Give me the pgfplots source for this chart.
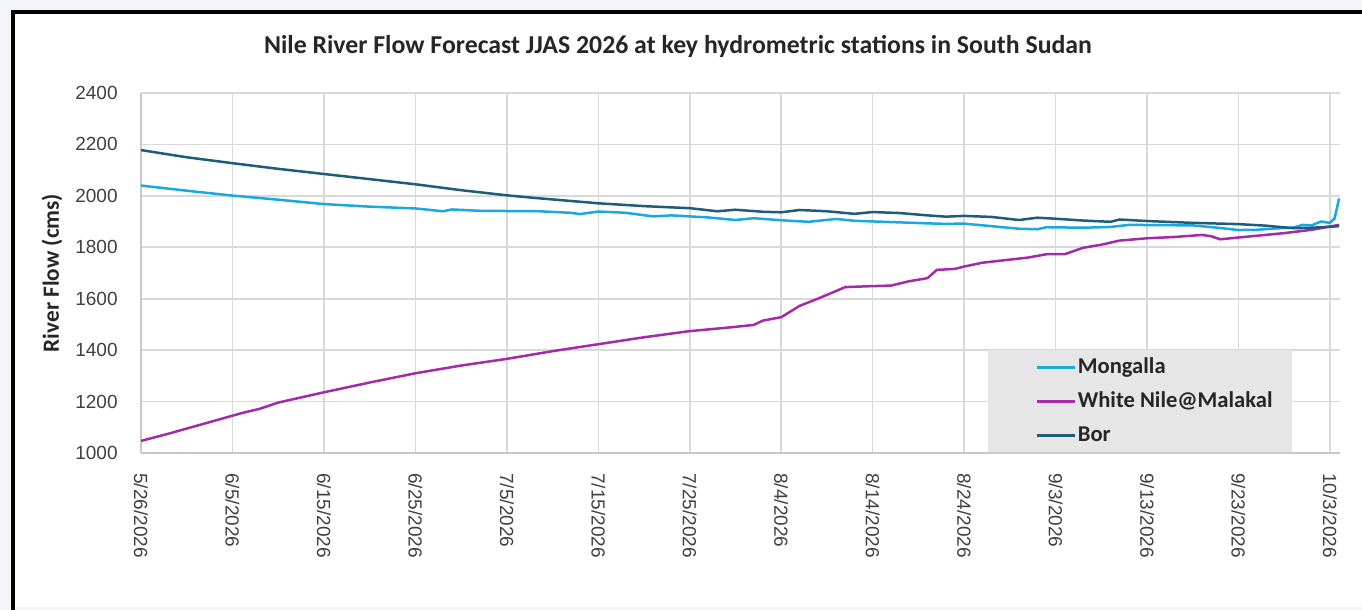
\documentclass[border=0pt]{standalone}
\usepackage{pgfplots}
\pgfplotsset{compat=1.18}
\usepackage{fontspec}
\setmainfont{Liberation Sans}
\newfontfamily\titlefont{Carlito}
\definecolor{cMong}{RGB}{26,168,224}
\definecolor{cMal}{RGB}{164,42,166}
\definecolor{cBor}{RGB}{31,92,121}
\definecolor{cGrid}{RGB}{217,217,217}
\definecolor{cAxis}{RGB}{200,200,200}
\definecolor{cTxt}{RGB}{64,64,64}
\definecolor{cBg}{RGB}{244,245,249}
\definecolor{cLeg}{RGB}{230,230,230}

\pgfplotstableread{
d v
0 2178
5 2150
10 2127
15 2105
20 2085
25 2065
30 2045
35 2022
40 2002
43 1992
50 1971
55 1960
60 1952
63 1940
65 1946
68 1938
70 1936
72 1945
75 1940
78 1930
80 1937
83 1933
86 1924
88 1919
90 1922
93 1918
96 1906
98 1915
100 1911
103 1904
106 1899
107 1908
110 1902
115 1895
120 1890
123 1884
126 1874
128 1876
131 1882
}\bor

\pgfplotstableread{
d v
0 2040
5 2020
10 2001
15 1985
20 1968
25 1958
30 1951
33 1940
34 1947
37 1942
40 1941
43 1941
47 1934
48 1929
50 1939
53 1934
56 1920
58 1924
62 1916
65 1906
67 1913
70 1905
73 1899
76 1910
78 1903
82 1898
86 1893
88 1891
90 1892
93 1882
96 1872
98 1870
99 1878
103 1876
106 1879
108 1887
112 1886
115 1885
118 1875
120 1867
122 1868
124 1873
126 1877
127 1887
128 1885
129 1900
130 1895
130.5 1912
131 1990
}\mong

\pgfplotstableread{
d v
0 1047
3 1075
6 1105
9 1135
11 1155
13 1172
15 1196
18 1220
20 1236
25 1274
30 1310
35 1340
40 1366
42 1378
45 1396
50 1423
55 1450
60 1474
64 1487
67 1498
68 1515
70 1528
72 1572
74 1600
76 1630
77 1645
80 1649
82 1651
84 1668
86 1680
87 1712
89 1716
90 1725
92 1740
95 1752
97 1760
99 1773
101 1773
103 1798
105 1810
107 1826
110 1835
113 1840
116 1848
117 1843
118 1831
120 1838
125 1855
128 1868
131 1887
}\mal

\begin{document}
\begin{tikzpicture}[x=0.5bp,y=0.5bp]
\useasboundingbox (0,0) rectangle (1362,610);
\fill[cBg] (0,0) rectangle (1362,610);
\fill[white] (13,3) rectangle (1362,598);
\fill[black] (11,0) rectangle (15,600);
\fill[black] (11,596) rectangle (1362,600);
\node[font=\titlefont\bfseries\fontsize{12.9bp}{15bp}\selectfont, text=black!85] at (678,564) {Nile River Flow Forecast JJAS 2026 at key hydrometric stations in South Sudan};
\begin{axis}[
  at={(70.5bp,78.5bp)}, anchor=south west,
  scale only axis, width=599.5bp, height=180bp,
  xmin=0, xmax=131.1, ymin=1000, ymax=2400,
  axis x line=bottom, axis y line=left,
  axis line style={cAxis, line width=0.9bp, -},
  grid=major, major grid style={cGrid, line width=0.8bp},
  major tick length=0pt,
  xtick={0,10,...,130},
  xticklabels={5/26/2026,6/5/2026,6/15/2026,6/25/2026,7/5/2026,7/15/2026,7/25/2026,8/4/2026,8/14/2026,8/24/2026,9/3/2026,9/13/2026,9/23/2026,10/3/2026},
  ytick={1000,1200,...,2400},
  /pgf/number format/assume math mode=true,
  /pgf/number format/1000 sep={},
  tick label style={font=\fontsize{9.5bp}{11bp}\selectfont, text=cTxt},
  xticklabel style={yshift=-10bp, rotate=-90, anchor=west, inner sep=0pt},
  yticklabel style={inner sep=0pt, xshift=-11.5bp},
  ylabel={River Flow (cms)},
  ylabel style={at={(axis description cs:-0.0742,0.5)}, anchor=center, font=\titlefont\bfseries\fontsize{11.6bp}{13bp}\selectfont, text=black!85},
  legend cell align=left,
  legend style={at={(0.7064,0.286)}, anchor=north west, fill=cLeg, draw=none,
    inner xsep=0pt, inner ysep=0pt, row sep=0pt,
    font=\titlefont\bfseries\fontsize{11.3bp}{13bp}\selectfont, text=black!85,
    nodes={inner ysep=3bp, inner xsep=1bp, text height=8.5bp, text depth=2.5bp}},
  legend image code/.code={\path (-23.5bp,0bp); \draw[#1, line width=1.2bp] (0bp,0bp) -- (19bp,0bp);},
]
\addplot[cMong, line width=1.25bp] table[x=d,y=v] {\mong};
\addlegendentry{\makebox[106bp][l]{Mongalla}}
\addplot[cMal, line width=1.25bp] table[x=d,y=v] {\mal};
\addlegendentry{\makebox[106bp][l]{White Nile@Malakal}}
\addplot[cBor, line width=1.25bp] table[x=d,y=v] {\bor};
\addlegendentry{\makebox[106bp][l]{Bor}}
\end{axis}
\end{tikzpicture}
\end{document}
